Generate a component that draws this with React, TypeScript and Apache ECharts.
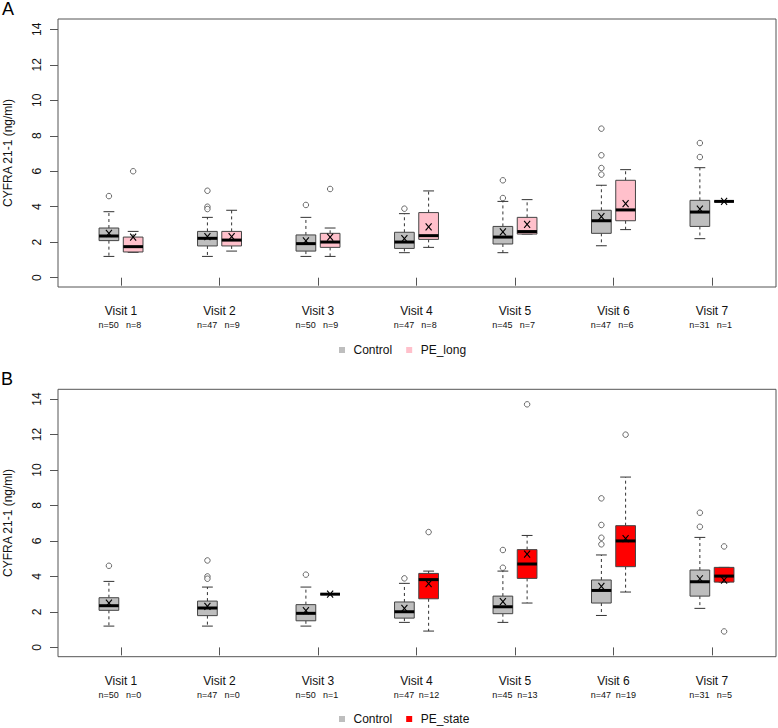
import React, { useEffect, useRef } from "react";
import * as echarts from "echarts";

const visits = [1, 2, 3, 4, 5, 6, 7];
const yTitle = "CYFRA 21-1 (ng/ml)";

const controlN = [50, 47, 50, 47, 45, 47, 31];
const peLongN = [8, 9, 9, 8, 7, 6, 1];
const peStateN = [0, 0, 1, 12, 13, 19, 5];

// Control group (same in both panels)
const controlLow = [1.2, 1.2, 1.2, 1.41, 1.41, 1.8, 2.2];
const controlQ1 = [2.09, 1.79, 1.5, 1.65, 1.9, 2.5, 2.89];
const controlMedian = [2.35, 2.22, 1.92, 2.01, 2.29, 3.21, 3.7];
const controlQ3 = [2.8, 2.61, 2.41, 2.56, 2.89, 3.8, 4.36];
const controlHigh = [3.72, 3.4, 3.4, 3.61, 4.3, 5.21, 6.2];
const controlMean = [2.5, 2.31, 2.07, 2.2, 2.58, 3.44, 3.87];
const controlOutliers = [[4.6], [4.9, 4.0, 3.87], [4.1], [3.89], [5.49, 4.49], [8.4, 6.9, 6.18, 5.81], [7.59, 6.8]];

// PE_long group
const peLongLow = [1.43, 1.5, 1.2, 1.71, 2.46, 2.71, 4.3];
const peLongQ1 = [1.45, 1.79, 1.71, 2.16, 2.46, 3.21, 4.3];
const peLongMedian = [1.75, 2.12, 2.01, 2.37, 2.6, 3.82, 4.3];
const peLongQ3 = [2.29, 2.61, 2.5, 3.67, 3.4, 5.49, 4.3];
const peLongHigh = [2.61, 3.8, 2.8, 4.89, 4.4, 6.09, 4.3];
const peLongMean = [2.29, 2.31, 2.29, 2.86, 3.0, 4.17, 4.3];
const peLongOutliers = [[6.0], [], [5.0], [], [], [], []];

// PE_state group (null where n=0)
const peStateLow = [null, null, 3.0, 0.92, 2.5, 3.12, 3.68];
const peStateQ1 = [null, null, 3.0, 2.74, 3.89, 4.55, 3.68];
const peStateMedian = [null, null, 3.0, 3.82, 4.7, 6.0, 4.02];
const peStateQ3 = [null, null, 3.0, 4.17, 5.51, 6.86, 4.51];
const peStateHigh = [null, null, 3.0, 4.3, 6.31, 9.6, 4.51];
const peStateMean = [null, null, 3.0, 3.59, 5.26, 6.13, 3.79];
const peStateOutliers = [[], [], [], [6.5], [13.7], [11.99], [5.69, 0.9]];

const FONT = "'Liberation Sans', Arial, Helvetica, sans-serif";
const OFFSET = 0.123;
const HALF = 0.1;
const X_MIN = 0.36;
const X_MAX = 7.65;

function boxData(low: any[], q1: any[], med: any[], q3: any[], high: any[], mean: any[], off: number) {
  const out: any[] = [];
  visits.forEach((v, i) => {
    if (med[i] == null) return;
    out.push([v + off, low[i], q1[i], med[i], q3[i], high[i], mean[i]]);
  });
  return out;
}

function outlierData(list: number[][], off: number) {
  const out: any[] = [];
  visits.forEach((v, i) => list[i].forEach((y) => out.push([v + off, y])));
  return out;
}

function renderBox(fill: string) {
  return (params: any, api: any) => {
    const x = api.value(0);
    const low = api.value(1), q1 = api.value(2), med = api.value(3), q3 = api.value(4), high = api.value(5), mean = api.value(6);
    const cx = api.coord([x, med])[0];
    const yLow = api.coord([x, low])[1];
    const yQ1 = api.coord([x, q1])[1];
    const yMed = api.coord([x, med])[1];
    const yQ3 = api.coord([x, q3])[1];
    const yHigh = api.coord([x, high])[1];
    const yMean = api.coord([x, mean])[1];
    const half = api.size([HALF, 0])[0];
    const cap = half * 0.55;
    const stroke = "#444";
    const children: any[] = [
      { type: "line", shape: { x1: cx, y1: yQ3, x2: cx, y2: yHigh }, style: { stroke: "#333", lineWidth: 1, lineDash: [3, 3] } },
      { type: "line", shape: { x1: cx, y1: yQ1, x2: cx, y2: yLow }, style: { stroke: "#333", lineWidth: 1, lineDash: [3, 3] } },
      { type: "line", shape: { x1: cx - cap, y1: yHigh, x2: cx + cap, y2: yHigh }, style: { stroke: "#333", lineWidth: 1 } },
      { type: "line", shape: { x1: cx - cap, y1: yLow, x2: cx + cap, y2: yLow }, style: { stroke: "#333", lineWidth: 1 } },
      { type: "rect", shape: { x: cx - half, y: yQ3, width: half * 2, height: Math.max(yQ1 - yQ3, 0) }, style: { fill, stroke, lineWidth: 1 } },
      { type: "line", shape: { x1: cx - half, y1: yMed, x2: cx + half, y2: yMed }, style: { stroke: "#000", lineWidth: 3 } },
      { type: "line", shape: { x1: cx - 3, y1: yMean - 3.5, x2: cx + 3, y2: yMean + 3.5 }, style: { stroke: "#000", lineWidth: 1.1 } },
      { type: "line", shape: { x1: cx + 3, y1: yMean - 3.5, x2: cx - 3, y2: yMean + 3.5 }, style: { stroke: "#000", lineWidth: 1.1 } },
    ];
    return { type: "group", children };
  };
}

function xAxisFor(gridIndex: number, secondN: number[]) {
  return {
    type: "value",
    gridIndex,
    min: X_MIN,
    max: X_MAX,
    offset: 9.3,
    axisLine: { show: false },
    splitLine: { show: false },
    axisTick: { show: true, customValues: visits, length: 8, lineStyle: { color: "#555" } },
    axisLabel: {
      customValues: visits,
      margin: 17,
      formatter: (v: number) => {
        const i = Math.round(v) - 1;
        return `{v|Visit ${visits[i]}}\n{n|n=${controlN[i]}}{n|n=${secondN[i]}}`;
      },
      rich: {
        v: { fontSize: 12, fontFamily: FONT, color: "#111", lineHeight: 14, align: "center" },
        n: { fontSize: 9, fontFamily: FONT, color: "#111", lineHeight: 14, width: 25, align: "center" },
      },
    },
  };
}

function yAxisFor(gridIndex: number) {
  return {
    type: "value",
    gridIndex,
    min: 0,
    max: 14,
    interval: 2,
    axisLine: { show: false },
    splitLine: { show: false },
    axisTick: { show: true, length: 8, lineStyle: { color: "#555" } },
    axisLabel: { show: true, rotate: 90, margin: 15, fontSize: 12, fontFamily: FONT, color: "#111" },
  };
}

export default function App() {
  const ref = useRef<HTMLDivElement>(null);
  useEffect(() => {
    if (!ref.current) return;
    const chart = echarts.init(ref.current, undefined, { renderer: "svg" });
    const grid = { left: 58, width: 718, height: 248.4 };
    const legendCommon = {
      orient: "horizontal",
      icon: "rect",
      itemWidth: 6,
      itemHeight: 6,
      itemGap: 14,
      selectedMode: false,
      textStyle: { fontSize: 12, fontFamily: FONT, color: "#111", padding: [0, 0, 0, 3.5] },
    };
    const titleStyle = { text: yTitle, fontSize: 12, fontFamily: FONT, fill: "#111", align: "center", verticalAlign: "middle" };
    chart.setOption({
      animation: false,
      backgroundColor: "#fff",
      textStyle: { fontFamily: FONT },
      grid: [
        { ...grid, top: 29.3 },
        { ...grid, top: 399 },
      ],
      xAxis: [xAxisFor(0, peLongN), xAxisFor(1, peStateN)],
      yAxis: [yAxisFor(0), yAxisFor(1)],
      legend: [
        { ...legendCommon, left: 334, top: 339, data: ["Control", "PE_long"] },
        { ...legendCommon, left: 334, top: 708, data: ["Control", "PE_state"] },
      ],
      graphic: [
        { type: "rect", shape: { x: 58, y: 19, width: 718, height: 268 }, style: { fill: "none", stroke: "#555", lineWidth: 1 }, silent: true, z: 10 },
        { type: "rect", shape: { x: 58, y: 389.3, width: 718, height: 267.4 }, style: { fill: "none", stroke: "#555", lineWidth: 1 }, silent: true, z: 10 },
        { type: "text", x: 7.5, y: 153, rotation: Math.PI / 2, style: titleStyle },
        { type: "text", x: 7.5, y: 523, rotation: Math.PI / 2, style: titleStyle },
        { type: "text", left: 2, top: 0, style: { text: "A", fontSize: 18, fontFamily: FONT, fill: "#000" } },
        { type: "text", left: 1, top: 370, style: { text: "B", fontSize: 18, fontFamily: FONT, fill: "#000" } },
      ],
      series: [
        {
          type: "custom", name: "Control", xAxisIndex: 0, yAxisIndex: 0, itemStyle: { color: "#bebebe" },
          encode: { x: 0, y: [1, 2, 3, 4, 5, 6] }, renderItem: renderBox("#bebebe"), clip: false,
          data: boxData(controlLow, controlQ1, controlMedian, controlQ3, controlHigh, controlMean, -OFFSET),
        },
        {
          type: "custom", name: "PE_long", xAxisIndex: 0, yAxisIndex: 0, itemStyle: { color: "#ffc0cb" },
          encode: { x: 0, y: [1, 2, 3, 4, 5, 6] }, renderItem: renderBox("#ffc0cb"), clip: false,
          data: boxData(peLongLow, peLongQ1, peLongMedian, peLongQ3, peLongHigh, peLongMean, OFFSET),
        },
        {
          type: "scatter", name: "Outliers A", xAxisIndex: 0, yAxisIndex: 0, symbol: "circle", symbolSize: 5.5, clip: false,
          itemStyle: { color: "#fff", borderColor: "#333", borderWidth: 0.9 },
          data: [...outlierData(controlOutliers, -OFFSET), ...outlierData(peLongOutliers, OFFSET)],
        },
        {
          type: "custom", name: "Control", xAxisIndex: 1, yAxisIndex: 1, itemStyle: { color: "#bebebe" },
          encode: { x: 0, y: [1, 2, 3, 4, 5, 6] }, renderItem: renderBox("#bebebe"), clip: false,
          data: boxData(controlLow, controlQ1, controlMedian, controlQ3, controlHigh, controlMean, -OFFSET),
        },
        {
          type: "custom", name: "PE_state", xAxisIndex: 1, yAxisIndex: 1, itemStyle: { color: "#ff0000" },
          encode: { x: 0, y: [1, 2, 3, 4, 5, 6] }, renderItem: renderBox("#ff0000"), clip: false,
          data: boxData(peStateLow, peStateQ1, peStateMedian, peStateQ3, peStateHigh, peStateMean, OFFSET),
        },
        {
          type: "scatter", name: "Outliers B", xAxisIndex: 1, yAxisIndex: 1, symbol: "circle", symbolSize: 5.5, clip: false,
          itemStyle: { color: "#fff", borderColor: "#333", borderWidth: 0.9 },
          data: [...outlierData(controlOutliers, -OFFSET), ...outlierData(peStateOutliers, OFFSET)],
        },
      ],
    });
    return () => chart.dispose();
  }, []);
  return <div ref={ref} style={{ position: "fixed", left: 0, top: 0, width: 778, height: 728, background: "#fff" }} />;
}
